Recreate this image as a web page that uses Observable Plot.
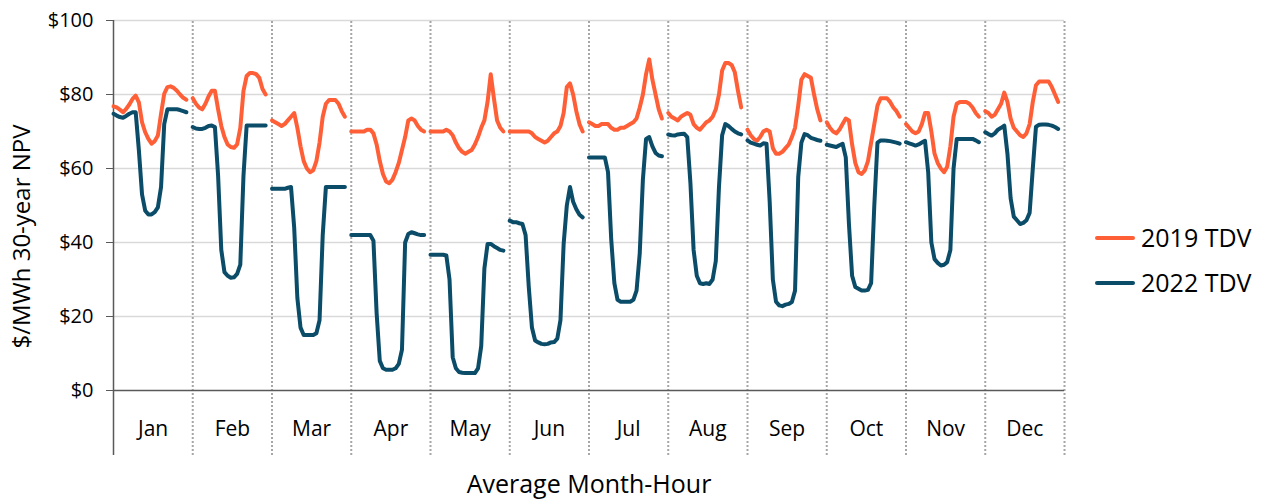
<!DOCTYPE html>
<html>
<head>
<meta charset="utf-8">
<script src="https://cdn.jsdelivr.net/npm/d3@7"></script>
<script src="https://cdn.jsdelivr.net/npm/@observablehq/plot@0.6"></script>
<style>
  body { margin: 0; background: #fff; }
  #wrap { position: relative; width: 1263px; height: 499px; font-family: "Open Sans", sans-serif; color: #000; }
  .legend { position: absolute; left: 1093px; top: 215px; font-size: 25px; line-height: 45px; }
  .legend div { display: flex; align-items: center; white-space: nowrap; }
  .legend svg { margin-right: 4px; }
</style>
</head>
<body>
<div id="wrap"></div>
<script>
// ---- data ----
const months = ["Jan","Feb","Mar","Apr","May","Jun","Jul","Aug","Sep","Oct","Nov","Dec"];
const hours = d3.range(24);
const yTicks = [0, 20, 40, 60, 80, 100];
const seriesNames = ["2019 TDV", "2022 TDV"];
const seriesColors = ["#ff5f37", "#0b4c69"];
const yTitle = "$/MWh 30-year NPV";
const xTitle = "Average Month-Hour";

// average hourly values, one row of 24 per month
const tdv2019 = [
  [76.8,76.5,75.9,75.2,76.1,77.3,78.8,79.7,77.9,72.5,69.8,68,66.7,67.4,68.9,74.8,80.2,82,82.2,81.8,81,80,79.1,78.6],
  [79,77.5,76.5,76,77.5,79.5,81,81,76,71.5,68.5,66.5,65.8,65.6,66.5,71,81,85,85.8,85.8,85.5,84.5,81.5,80],
  [73,72.5,72,71.5,72,73,74,75,71,66,62,60,59,59.5,62,67,74,77.5,78.5,78.5,78.5,77.5,75.5,74],
  [70,70,70,70,70,70.5,70.5,69.5,66.5,62,58.5,56.5,56,57,59,61.5,65,68.5,73,73.5,73,71.5,70.5,70],
  [70,70,70,70,70,70.5,70,69,67,65.5,64.5,64,64.5,65,66.5,68.5,71,73,78,85.5,79,73,71,70],
  [70,70,70,70,70,70,70,69.5,68.5,68,67.5,67,67.5,68.5,69.5,70,71.5,75,82,83,80,75.5,72,70],
  [72.5,72,71.5,71.5,72,72,72,71,70.5,70.5,71,71,71.5,72,72.5,73.5,76.5,80,85.5,89.5,84,80,76,73.5],
  [75,74,73.5,73,74,74.5,75,74.5,72,71,70.5,71.5,72.5,73,74,76,80,86.5,88.5,88.5,88,86,81,76.5],
  [70.5,69,68,67.5,68.5,70,70.5,70,65.5,64,64,64.5,65.5,66.5,68.5,71,77,84,85.5,85,84.5,80,76,73],
  [72.5,71,70,69.5,70.5,72,73.5,73,66.5,61.5,59,58.5,59.5,62,67,72,77,79,79,79,78,76.5,75.5,74],
  [72,71,70,69.5,70,72,75,75,70,64,61.5,60,59,60.5,66,74,77.5,78,78,78,77.5,76.5,75,74],
  [75.5,75,74,74.5,76,77.5,80.5,78,73.5,71,70,69,68.5,69.5,72,78,82.5,83.5,83.5,83.5,83.5,82,80,78]
];
const tdv2022 = [
  [74.8,74.3,73.9,73.7,74.2,74.8,75.2,75.2,65,53,48.6,47.6,47.6,48.2,49.5,55,72,76,76,76,76,75.8,75.5,75.2],
  [71.2,70.8,70.7,70.7,71,71.5,71.6,71.2,58,38,32,31,30.5,30.6,31.5,34,58,71.6,71.6,71.6,71.6,71.6,71.6,71.6],
  [54.5,54.5,54.5,54.5,54.5,54.8,55,44,25,17,15,15,15,15,15.5,19,42,55,55,55,55,55,55,55],
  [42,42,42,42,42,42,42,40.5,21,8,6,5.6,5.6,5.6,6,7.2,11,40,42.3,42.8,42.5,42.2,42,42],
  [36.7,36.7,36.7,36.7,36.7,36.5,30,9,6,5,4.8,4.7,4.7,4.7,4.7,6,12,33,39.6,39.6,39,38.5,38,37.8],
  [45.9,45.5,45.5,45.2,45,42,28,17,13.5,13,12.6,12.5,12.6,13,13.1,14,19,39.6,50,55,51,49,47.5,46.8],
  [63,63,63,63,63,63,59,41,29,24.5,24,24,24,24,24.5,27,37,57,68,68.5,66,64.2,63.5,63.3],
  [69.2,69,68.9,69.2,69.3,69.4,68.5,56,38,31,29,28.8,29,28.8,30,35,55,69,72,71.5,70.7,70,69.5,69.2],
  [67.6,67,66.7,66.4,66.2,66.8,66.7,51,30,24,23,22.8,23.2,23.4,23.9,27,57.7,67,69.3,69,68.3,68,67.7,67.5],
  [66.4,66.2,66,65.8,66.3,66.7,63,45,31,28,27.5,27,27,27.2,29,50,67,67.6,67.6,67.5,67.4,67.2,67,66.7],
  [67.1,66.8,66.5,66.2,66.5,67,67.5,59,40,35.5,34.5,33.8,34,34.7,38,60,68,68,68,68,68,68,67.6,67.1],
  [69.8,69.3,68.9,69.5,70.5,71,71.6,64,52,47,46,45,45.3,46,48,60,71.3,71.8,71.9,71.9,71.8,71.6,71.2,70.7]
];

// ---- build ----
const slotsPerMonth = 25; // 24 hours + one gap slot
const toRows = (values, series) =>
  values.flatMap((row, m) => hours.map(h => ({series, month: months[m], slot: m * slotsPerMonth + h, value: row[h]})));
const rows2019 = toRows(tdv2019, seriesNames[0]);
const rows2022 = toRows(tdv2022, seriesNames[1]);
const boundaries = months.map((_, i) => (i + 1) * slotsPerMonth);
const monthCenters = months.map((_, i) => i * slotsPerMonth + slotsPerMonth / 2);
const gridValues = yTicks.filter(d => d > 0);
const axisFloor = -17.6; // dotted dividers extend below the axis through the label band
const xMax = months.length * slotsPerMonth;
const font = "'Open Sans', sans-serif";

const chart = Plot.plot({
  width: 1263,
  height: 499,
  marginLeft: 113,
  marginRight: 199,
  marginTop: 20,
  marginBottom: 109,
  style: {fontFamily: font, fontSize: "20px", color: "#000", background: "#fff"},
  x: {domain: [0, xMax], axis: null},
  y: {domain: [0, 100], axis: null},
  marks: [
    Plot.ruleY(gridValues, {stroke: "#d9d9d9", strokeWidth: 1.5}),
    Plot.ruleX(boundaries, {y1: axisFloor, y2: 100, stroke: "#a6a6a6", strokeWidth: 2, strokeDasharray: "2,2"}),
    Plot.ruleY([0], {stroke: "#595959", strokeWidth: 1.5}),
    Plot.ruleX([0], {y1: axisFloor, y2: 100, stroke: "#595959", strokeWidth: 1.5}),
    Plot.line(rows2019, {x: "slot", y: "value", z: "month", stroke: seriesColors[0], strokeWidth: 4, strokeLinejoin: "round", strokeLinecap: "round"}),
    Plot.line(rows2022, {x: "slot", y: "value", z: "month", stroke: seriesColors[1], strokeWidth: 4, strokeLinejoin: "round", strokeLinecap: "round"}),
    Plot.axisY(yTicks, {tickSize: 7, tickPadding: 13, tickFormat: d => "$" + d, fontSize: 20, stroke: "#595959", label: null}),
    Plot.axisX(monthCenters, {tickSize: 0, tickPadding: 31, tickFormat: d => months[Math.round((d - slotsPerMonth / 2) / slotsPerMonth)], fontSize: 21, label: null}),
    Plot.text([yTitle], {frameAnchor: "left", textAnchor: "middle", lineAnchor: "middle", dx: -91, dy: 31, rotate: -90, fontSize: 24, fill: "#000"}),
    Plot.text([xTitle], {frameAnchor: "bottom", textAnchor: "middle", lineAnchor: "middle", dy: 94, fontSize: 25, fill: "#000"})
  ]
});

const wrap = document.getElementById("wrap");
wrap.appendChild(chart);

// legend
const legend = document.createElement("div");
legend.className = "legend";
seriesNames.forEach((name, i) => {
  const item = document.createElement("div");
  item.innerHTML = `<svg width="44" height="8"><line x1="4" y1="4" x2="40" y2="4" stroke="${seriesColors[i]}" stroke-width="4" stroke-linecap="round"/></svg><span>${name}</span>`;
  legend.appendChild(item);
});
wrap.appendChild(legend);
</script>
</body>
</html>
